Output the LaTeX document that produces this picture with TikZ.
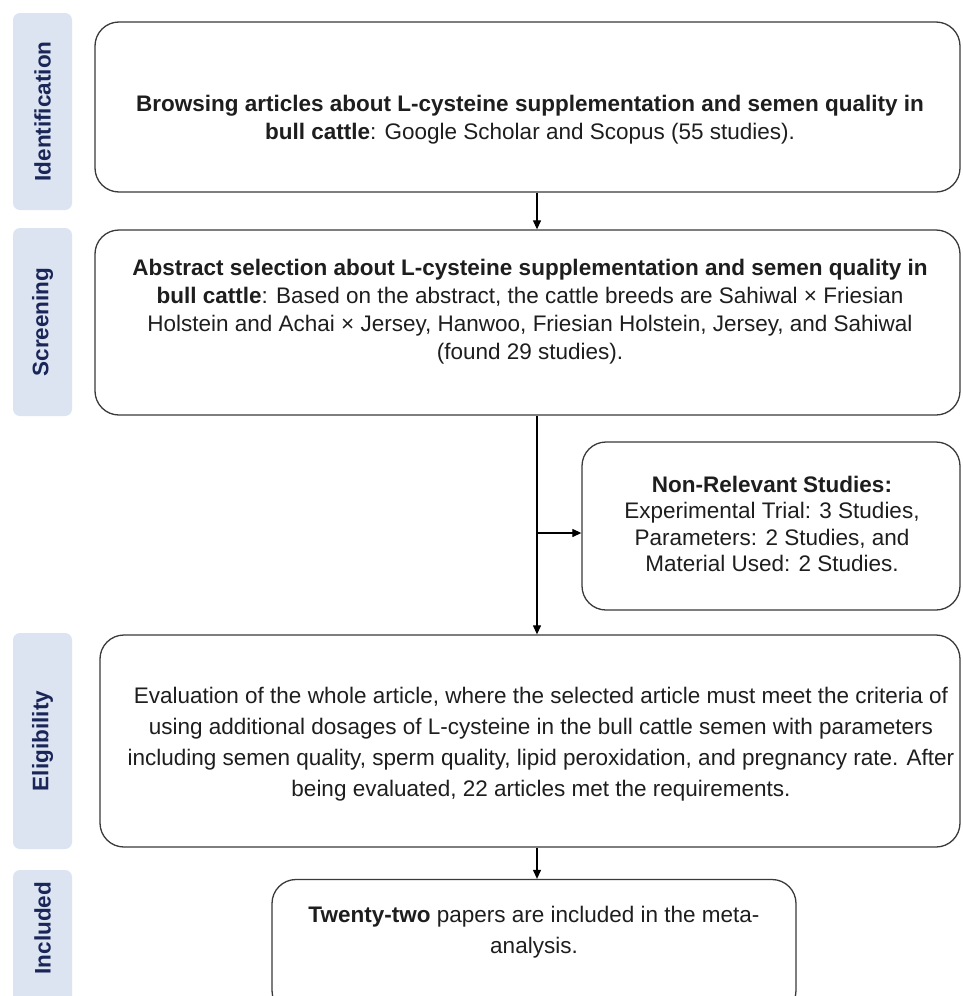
\documentclass[tikz,border=0pt]{standalone}
\usepackage{fontspec}
\setmainfont{Liberation Sans}
\usetikzlibrary{arrows.meta}
\definecolor{lblfill}{HTML}{DCE4F1}
\definecolor{lbltext}{HTML}{1B2658}
\definecolor{boxline}{HTML}{3A3A3A}
\definecolor{txt}{HTML}{1E1E1E}
\tikzset{
  sidelabel/.style={fill=lblfill, rounded corners=7pt, inner sep=0pt},
  sidetext/.style={rotate=90, text=lbltext, font=\fontsize{22.5}{26}\selectfont\bfseries},
  flowbox/.style={draw=boxline, line width=1.3pt, rounded corners=24pt, inner sep=0pt},
  boxtext/.style={text=txt, align=center, font=\fontsize{22.5}{28}\selectfont},
  conn/.style={draw=black, line width=1.2pt, -{Triangle[length=9pt,width=8pt]}},
}
\begin{document}
\begin{tikzpicture}[x=1pt,y=-1pt]
\fill[white] (0,0) rectangle (963,996);
\clip (0,0) rectangle (963,996);
% side labels
\node[sidelabel, minimum width=59pt, minimum height=197pt] (lid) at (42.5,111.5) {};
\node[sidetext] (tid) at (lid) {Identification};
\node[sidelabel, minimum width=59pt, minimum height=188pt] (lsc) at (42.5,322) {};
\node[sidetext] (tsc) at (lsc) {Screening};
\node[sidelabel, minimum width=59pt, minimum height=216pt] (lel) at (42.5,741) {};
\node[sidetext] (tel) at (lel) {Eligibility};
\node[sidelabel, minimum width=59pt, minimum height=150pt] (lin) at (42.5,945) {};
\node[sidetext] (tin) at (42.5,928) {Included};
% boxes
\node[flowbox, minimum width=865pt, minimum height=170pt] (b1) at (527.5,107) {};
\node[boxtext] (t1) at (530,120) {\textbf{Browsing articles about L-cysteine supplementation and semen quality in}\\\textbf{bull cattle}: Google Scholar and Scopus (55 studies).};
\node[flowbox, minimum width=865pt, minimum height=185pt] (b2) at (527.5,322.5) {};
\node[boxtext] (t2) at (530,312) {\textbf{Abstract selection about L-cysteine supplementation and semen quality in}\\\textbf{bull cattle}: Based on the abstract, the cattle breeds are Sahiwal × Friesian\\Holstein and Achai × Jersey, Hanwoo, Friesian Holstein, Jersey, and Sahiwal\\(found 29 studies).};
\node[flowbox, minimum width=378pt, minimum height=168pt] (b3) at (771,526) {};
\node[boxtext, font=\fontsize{22.5}{26.5}\selectfont] (t3) at (772,524) {\textbf{Non-Relevant Studies:}\\Experimental Trial: 3 Studies,\\Parameters: 2 Studies, and\\Material Used: 2 Studies.};
\node[flowbox, minimum width=860pt, minimum height=212pt] (b4) at (530,741) {};
\node[boxtext, font=\fontsize{22.5}{31}\selectfont] (t4) at (541,744) {Evaluation of the whole article, where the selected article must meet the criteria of\\using additional dosages of L-cysteine in the bull cattle semen with parameters\\including semen quality, sperm quality, lipid peroxidation, and pregnancy rate. After\\being evaluated, 22 articles met the requirements.};
\node[flowbox, minimum width=524pt, minimum height=135pt] (b5) at (534,947) {};
\node[boxtext, font=\fontsize{22.5}{31}\selectfont] (t5) at (534,932) {\textbf{Twenty-two} papers are included in the meta-\\analysis.};
% connectors
\coordinate (col) at (537,0);
\coordinate (br) at (537,533);
\draw[conn] (b1.south -| col) -- (b2.north -| col);
\draw[conn] (b2.south -| col) -- (b4.north -| col);
\draw[conn] (br) -- (b3.west |- br);
\draw[conn] (b4.south -| col) -- (b5.north -| col);
\end{tikzpicture}
\end{document}
